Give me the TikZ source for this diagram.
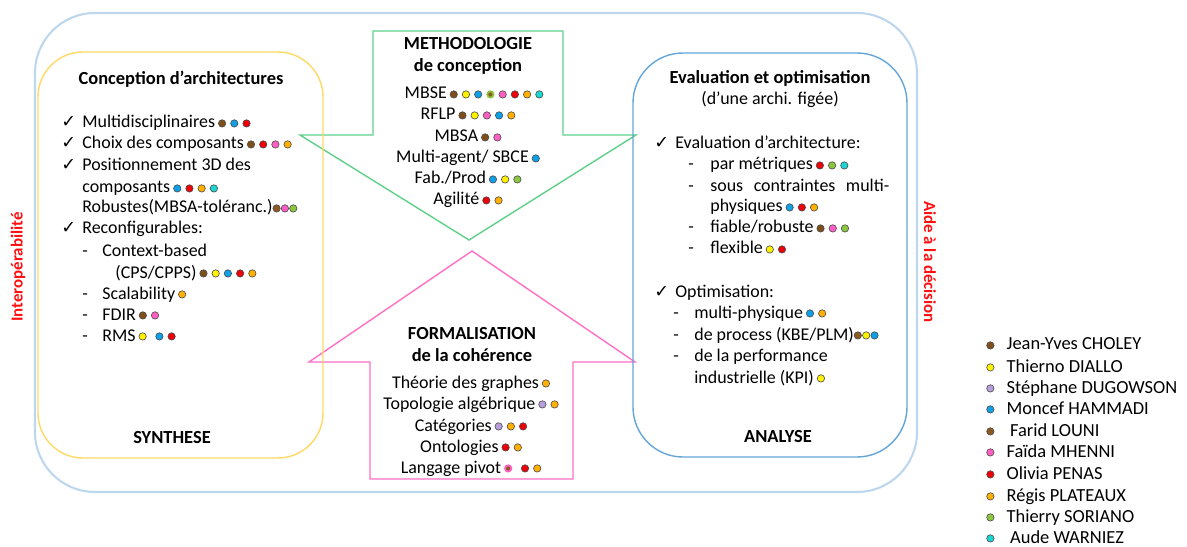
\documentclass[tikz,border=0pt]{standalone}
\usepackage{fontspec}
\setmainfont{Carlito}
\newfontfamily\checkfont{DejaVu Sans}
\usetikzlibrary{positioning}

\definecolor{choley}{HTML}{7F4F1A}
\definecolor{diallo}{HTML}{FFF200}
\definecolor{dugowson}{HTML}{B79FDB}
\definecolor{hammadi}{HTML}{0DA0E6}
\definecolor{louni}{HTML}{8E5A24}
\definecolor{mhenni}{HTML}{FF5EC4}
\definecolor{penas}{HTML}{EE0008}
\definecolor{plateaux}{HTML}{FFB000}
\definecolor{soriano}{HTML}{8CC63F}
\definecolor{warniez}{HTML}{19D6D0}
\definecolor{outerblue}{HTML}{BDD7EE}
\definecolor{synthyellow}{HTML}{FFD966}
\definecolor{analblue}{HTML}{64A6D8}
\definecolor{methgreen}{HTML}{5FCF8A}
\definecolor{formpink}{HTML}{FF6FC5}
\definecolor{sidered}{HTML}{FF1010}

\tikzset{pdotline/.style={draw=black!70,line width=0.35pt}}
\newcommand{\pdot}[2][2.4pt]{\tikz[baseline=-2.6pt]\draw[pdotline,fill=#2] (0,0) circle (2.1pt);\hspace{#1}}
\newcommand{\pmix}[3][2.4pt]{\tikz[baseline=-2.6pt]\draw[draw=#3,line width=1pt,fill=#2] (0,0) circle (1.8pt);\hspace{#1}}

\begin{document}
\begin{tikzpicture}[
  x=0.02cm, y=-0.02cm,
  txt/.style={font=\fontsize{10.2}{12}\selectfont, anchor=base west, inner sep=0pt},
  ctxt/.style={txt, anchor=base},
  ttl/.style={font=\fontsize{10.5}{12.6}\selectfont\bfseries, anchor=base, inner sep=0pt},
  chk/.style={font=\checkfont\fontsize{10}{12}\selectfont, anchor=base west, inner sep=0pt},
  side/.style={font=\fontsize{9.6}{11}\selectfont\bfseries, text=sidered, inner sep=0pt},
  legend/.style={font=\fontsize{10.5}{12}\selectfont, anchor=base west, inner sep=0pt},
  outerbox/.style={draw=outerblue, line width=1.2pt, rounded corners=1.2cm},
  synthbox/.style={draw=synthyellow, line width=0.8pt, rounded corners=0.9cm},
  analbox/.style={draw=analblue, line width=0.8pt, rounded corners=1cm},
  metharrow/.style={draw=methgreen, line width=0.8pt},
  formarrow/.style={draw=formpink, line width=0.8pt}
]
\useasboundingbox (0,0) rectangle (1187,547);

\draw[outerbox] (35,13) rectangle (917,492);
\draw[metharrow] (373,31) -- (563,31) -- (563,135) -- (636,135) -- (469,240)
  -- (300,135) -- (373,135) -- cycle;
\draw[formarrow] (472,251) -- (635,362) -- (573,362) -- (573,479) -- (370,479)
  -- (370,362) -- (309,362) -- cycle;
\draw[synthbox] (38,52) rectangle (323,458);
\draw[analbox] (633,53) rectangle (907,457);

\node[side, rotate=90] (interop) at (18,267) {Interopérabilité};
\node[side, rotate=-90] (aide) at (930,262) {Aide à la décision};

\node[ttl] (synthtitle) at (181,85) {Conception d’architectures};
\node[chk] (c1) at (61,128) {✓};
\node[txt] (s1) at (82,128) {Multidisciplinaires\,\pdot{choley}\pdot{hammadi}\pdot{penas}};
\node[chk] (c2) at (61,149) {✓};
\node[txt] (s2) at (82,149) {Choix des composants\,\pdot{choley}\pdot{penas}\pdot{mhenni}\pdot{plateaux}};
\node[chk] (c3) at (61,171) {✓};
\node[txt] (s3) at (82,171) {Positionnement 3D des};
\node[txt] (s4) at (82,193) {composants\,\pdot{hammadi}\pdot{penas}\pdot{plateaux}\pdot{warniez}};
\node[txt] (s5) at (82,213) {Robustes(MBSA-toléranc.)\pdot[0.2pt]{louni}\pdot[0.2pt]{mhenni}\pdot[0.2pt]{soriano}};
\node[chk] (c4) at (61,234) {✓};
\node[txt] (s6) at (82,234) {Reconfigurables:};
\node[txt] (d1) at (82,256) {-};
\node[txt] (s7) at (102,256) {Context-based};
\node[txt] (s8) at (115,278) {(CPS/CPPS)\,\pdot{choley}\pdot{diallo}\pdot{hammadi}\pdot{penas}\pdot{plateaux}};
\node[txt] (d2) at (82,299) {-};
\node[txt] (s9) at (102,299) {Scalability\,\pdot{plateaux}};
\node[txt] (d3) at (82,320) {-};
\node[txt] (s10) at (102,320) {FDIR\,\pdot{choley}\pdot{mhenni}};
\node[txt] (d4) at (82,341) {-};
\node[txt] (s11) at (102,341) {RMS\,\pdot[5pt]{diallo}\pdot{hammadi}\pdot{penas}};
\node[ttl] (synth) at (172,443) {SYNTHESE};

\node[ttl] (meth0) at (468,50) {METHODOLOGIE};
\node[ttl] (meth1) at (468,72) {de conception};
\node[ctxt] (m1) at (474,99) {MBSE\,\pdot{choley}\pdot{diallo}\pdot{hammadi}\pmix{louni}{soriano}\pdot{mhenni}\pdot{penas}\pdot{plateaux}\pdot{warniez}};
\node[ctxt] (m2) at (468,120) {RFLP\,\pdot{choley}\pdot{diallo}\pdot{mhenni}\pdot{hammadi}\pdot{plateaux}};
\node[ctxt] (m3) at (468,142) {MBSA\,\pdot{choley}\pdot{mhenni}};
\node[ctxt] (m4) at (468,163) {Multi-agent/ SBCE\,\pdot{hammadi}};
\node[ctxt] (m5) at (468,184) {Fab./Prod\,\pdot{hammadi}\pdot{diallo}\pdot{soriano}};
\node[ctxt] (m6) at (468,205) {Agilité\,\pdot{penas}\pdot{plateaux}};

\node[ttl] (form0) at (472,339) {FORMALISATION};
\node[ttl] (form1) at (472,361) {de la cohérence};
\node[ctxt] (f1) at (471,388) {Théorie des graphes\,\pdot{plateaux}};
\node[ctxt] (f2) at (471,409) {Topologie algébrique\,\pdot{dugowson}\pdot{plateaux}};
\node[ctxt] (f3) at (471,431) {Catégories\,\pdot{dugowson}\pdot{plateaux}\pdot{penas}};
\node[ctxt] (f4) at (471,452) {Ontologies\,\pdot{penas}\pdot{plateaux}};
\node[ctxt] (f5) at (471,473) {Langage pivot\,\pmix[5pt]{louni}{mhenni}\pdot{penas}\pdot{plateaux}};

\node[ttl] (analtitle) at (770,84) {Evaluation et optimisation};
\node[ctxt] (analsub) at (770,105) {(d’une archi. figée)};
\node[chk] (c5) at (654,149) {✓};
\node[txt] (r1) at (675,149) {Evaluation d’architecture:};
\node[txt] (d5) at (688,170) {-};
\node[txt] (r2) at (710,170) {par métriques\,\pdot{penas}\pdot{soriano}\pdot{warniez}};
\node[txt] (d6) at (688,192) {-};
\node[txt] (r3) at (710,192) {sous\hspace{6pt}contraintes\hspace{6pt}multi-};
\node[txt] (r4) at (710,212) {physiques\,\pdot{hammadi}\pdot{penas}\pdot{plateaux}};
\node[txt] (d7) at (688,233) {-};
\node[txt] (r5) at (710,233) {fiable/robuste\,\pdot{choley}\pdot{mhenni}\pdot{soriano}};
\node[txt] (d8) at (688,254) {-};
\node[txt] (r6) at (710,254) {flexible\,\pdot{diallo}\pdot{penas}};
\node[chk] (c6) at (654,297) {✓};
\node[txt] (r7) at (675,297) {Optimisation:};
\node[txt] (d9) at (673,318) {-};
\node[txt] (r8) at (694,318) {multi-physique\,\pdot{hammadi}\pdot{plateaux}};
\node[txt] (d10) at (673,340) {-};
\node[txt] (r9) at (694,340) {de process (KBE/PLM)\pdot[0.2pt]{louni}\pdot[0.2pt]{diallo}\pdot[0.2pt]{hammadi}};
\node[txt] (d11) at (673,361) {-};
\node[txt] (r10) at (694,361) {de la performance};
\node[txt] (r11) at (694,383) {industrielle (KPI)\,\pdot{diallo}};
\node[ttl] (anal) at (778,442) {ANALYSE};

\node[legend] (l1) at (986,350) {\pdot[7pt]{choley}Jean-Yves CHOLEY};
\node[legend] (l2) at (986,372) {\pdot[7pt]{diallo}Thierno DIALLO};
\node[legend] (l3) at (986,393) {\pdot[7pt]{dugowson}Stéphane DUGOWSON};
\node[legend] (l4) at (986,414) {\pdot[7pt]{hammadi}Moncef HAMMADI};
\node[legend] (l5) at (986,436) {\pdot[9pt]{louni}Farid LOUNI};
\node[legend] (l6) at (986,457) {\pdot[7pt]{mhenni}Faïda MHENNI};
\node[legend] (l7) at (986,479) {\pdot[7pt]{penas}Olivia PENAS};
\node[legend] (l8) at (986,501) {\pdot[7pt]{plateaux}Régis PLATEAUX};
\node[legend] (l9) at (986,522) {\pdot[7pt]{soriano}Thierry SORIANO};
\node[legend] (l10) at (986,543) {\pdot[9pt]{warniez}Aude WARNIEZ};
\end{tikzpicture}
\end{document}
